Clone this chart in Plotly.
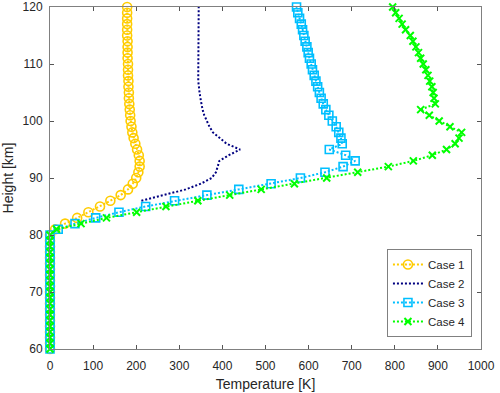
import plotly.graph_objects as go

# heights in km, 1 km step
heights = [60, 61, 62, 63, 64, 65, 66, 67, 68, 69, 70, 71, 72, 73, 74, 75, 76, 77, 78, 79, 80,
           81, 82, 83, 84, 85, 86, 87, 88, 89, 90, 91, 92, 93, 94, 95, 96, 97, 98, 99, 100,
           101, 102, 103, 104, 105, 106, 107, 108, 109, 110, 111, 112, 113, 114, 115, 116, 117, 118, 119, 120]

low_zeros = [0, 0, 0, 0, 0, 0, 0, 0, 0, 0, 0, 0, 0, 0, 0, 0, 0, 0, 0, 0, 0]  # 60..80 km

case1 = low_zeros + [12, 35, 63, 89, 116, 140, 164, 181, 192, 200,
                     205, 208, 208, 206, 202, 198, 194, 191, 189, 187,
                     186, 185, 184, 183, 183, 182, 182, 181, 181, 181,
                     180, 180, 180, 180, 179, 179, 179, 179, 179, 179]

heights2 = [86, 87, 88, 89, 90, 91, 92, 93, 94, 95, 96, 97, 98, 99, 100, 101, 102, 103,
            104, 105, 106, 107, 108, 109, 110, 111, 112, 113, 114, 115, 116, 117, 118, 119, 120]
case2 = [212, 265, 315, 350, 375, 385, 389, 393, 415, 441, 410, 393, 378, 370, 364, 358, 354, 351,
         349, 347, 345, 344, 344, 344, 344, 344, 344, 344, 344, 344, 344, 344, 344, 345, 345]

case3 = low_zeros + [19, 58, 106, 160, 222, 289, 364, 438, 513, 581,
                     638, 680, 708, 686, 648, 678, 675, 670, 664, 655,
                     647, 640, 634, 629, 625, 621, 617, 613, 609, 606,
                     602, 599, 596, 592, 589, 586, 583, 579, 575, 572]

case4 = low_zeros + [15, 72, 131, 201, 269, 343, 417, 490, 567, 642,
                     714, 785, 843, 887, 920, 940, 949, 955, 928, 903,
                     880, 860, 894, 891, 889, 886, 881, 877, 872, 866,
                     860, 855, 849, 842, 836, 825, 817, 810, 802, 795]

x_ticks = [0, 100, 200, 300, 400, 500, 600, 700, 800, 900, 1000]
y_ticks = [60, 70, 80, 90, 100, 110, 120]

fig = go.Figure()
fig.add_trace(go.Scatter(
    x=case1, y=heights, name="Case 1", mode="lines+markers", cliponaxis=False,
    line=dict(color="#FFCC00", width=2, dash="2px,2px"),
    marker=dict(symbol="circle-open", size=9, color="#FFCC00", line=dict(width=1.6)),
))
fig.add_trace(go.Scatter(
    x=case2, y=heights2, name="Case 2", mode="lines", cliponaxis=False,
    line=dict(color="#000080", width=2, dash="2px,2px"),
))
fig.add_trace(go.Scatter(
    x=case3, y=heights, name="Case 3", mode="lines+markers", cliponaxis=False,
    line=dict(color="#00BFFF", width=2, dash="2px,2px"),
    marker=dict(symbol="square-open", size=8, color="#00BFFF", line=dict(width=1.6)),
))
fig.add_trace(go.Scatter(
    x=case4, y=heights, name="Case 4", mode="lines+markers", cliponaxis=False,
    line=dict(color="#00FF00", width=2, dash="2px,2px"),
    marker=dict(symbol="x-thin", size=7, color="#00FF00", line=dict(width=2, color="#00FF00")),
))

axis_style = dict(
    showgrid=False, zeroline=False, showline=True, linecolor="#808080", linewidth=1,
    mirror="ticks", ticks="inside", ticklen=4, tickcolor="#555555", automargin=False,
    tickfont=dict(size=12, color="#262626"),
)
fig.update_xaxes(range=[0, 1000], tickvals=x_ticks, ticklabelstandoff=6,
                 title=dict(text="Temperature [K]", font=dict(size=14, color="#262626"), standoff=6),
                 **axis_style)
fig.update_yaxes(range=[60, 120], tickvals=y_ticks, ticklabelstandoff=4,
                 title=dict(text="Height [km]", font=dict(size=14, color="#262626"), standoff=8),
                 **axis_style)

fig.update_layout(
    width=500, height=393,
    margin=dict(l=50, r=19, t=7, b=44),
    plot_bgcolor="white", paper_bgcolor="white",
    font=dict(family="Liberation Sans, Arial, sans-serif", color="#262626"),
    legend=dict(x=0.979, y=0.035, xanchor="right", yanchor="bottom",
                bordercolor="#808080", borderwidth=1, bgcolor="white",
                font=dict(size=11.5), tracegroupgap=0, itemwidth=30),
    showlegend=True,
)

# drop the page's default body margin so the figure sits at the window corner
fig.write_html("out.html", config={"displayModeBar": False},
               post_script="document.body.style.margin='0px';")
